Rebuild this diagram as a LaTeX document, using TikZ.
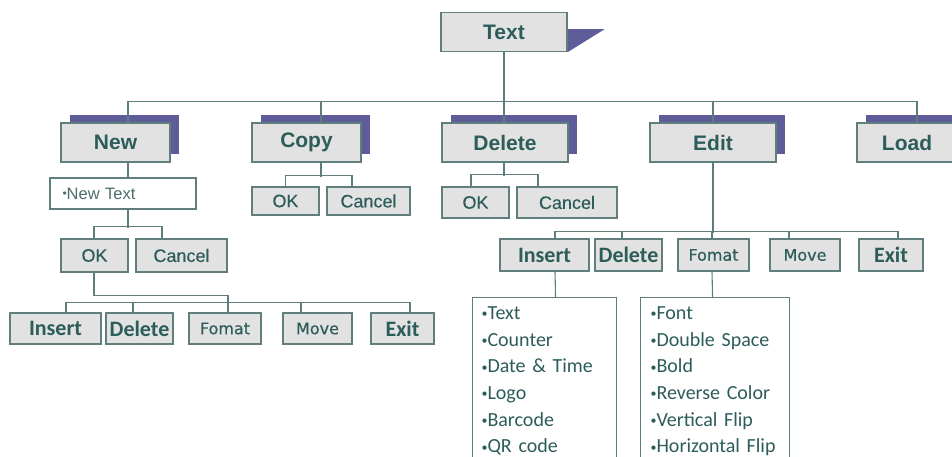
\documentclass[tikz,border=0pt]{standalone}
\usepackage{fontspec}
\setmainfont{Liberation Sans}
\newfontfamily\carlito{Carlito}
\newfontfamily\djv[FakeBold=0.5]{DejaVu Sans}
\newfontfamily\arialmid[FakeBold=0.35]{Liberation Sans}
\usetikzlibrary{shadows,backgrounds}

\definecolor{ink}{HTML}{2D5D5A}
\definecolor{softink}{HTML}{4E6E6C}
\definecolor{wire}{HTML}{5E7E7C}
\definecolor{boxgray}{HTML}{E2E2E2}
\definecolor{frame}{HTML}{607E7C}
\definecolor{tabblue}{HTML}{5F5D99}

\newcommand{\bul}{\raisebox{1.6pt}{\fontsize{12}{12}\selectfont\textbullet}}

\tikzset{
  box/.style={draw=frame, fill=boxgray, text=ink, inner sep=0pt, line width=1.3pt},
  head/.style={box, minimum width=126pt, minimum height=39pt, font=\bfseries\fontsize{21}{21}\selectfont},
  tab/.style={head, drop shadow={shadow xshift=9pt, shadow yshift=8pt, fill=tabblue, opacity=1}},
  btn/.style={box, font=\arialmid\fontsize{18}{18}\selectfont},
  tool/.style={box, minimum height=31pt, font=\carlito\bfseries\fontsize{22}{22}\selectfont},
  tooltoo/.style={box, minimum height=31pt, font=\djv\fontsize{16}{16}\selectfont},
  list/.style={draw=frame, fill=white, text=ink, line width=1.1pt, anchor=north west, align=left,
    inner ysep=9pt, font=\carlito\fontsize{20}{26.7}\selectfont},
  link/.style={draw=wire, line width=1.1pt}
}

\begin{document}
\begin{tikzpicture}[x=1pt, y=-1pt]
\path[use as bounding box, clip] (0,0) rectangle (952,457);

\node[head] (Text) at (504,32) {Text};
\node[tab, minimum width=109pt] (New) at (115.5,142.5) {New};
\node[tab, minimum width=109pt] (Copy) at (306.5,142.5) {Copy};
\node[tab] (Delete) at (505,142.5) {Delete};
\node[tab] (Edit) at (713,142.5) {Edit};
\node[tab, minimum width=100pt] (Load) at (907,142.5) {Load};

\node[draw=frame, fill=white, text=softink, line width=1.1pt, minimum height=31pt, text width=121pt,
  inner xsep=12.5pt, align=left, font=\fontsize{16.5}{16.5}\selectfont] (NewTxt) at (123,193.5) {\bul New Text};

\node[btn, minimum width=67pt, minimum height=33pt] (OK1) at (94.5,255.5) {OK};
\node[btn, minimum width=91pt, minimum height=33pt] (Cancel1) at (181.5,255.5) {Cancel};
\node[btn, minimum width=67pt, minimum height=28pt] (OK2) at (285.5,201) {OK};
\node[btn, minimum width=83pt, minimum height=28pt] (Cancel2) at (368.5,201) {Cancel};
\node[btn, minimum width=67pt, minimum height=31pt] (OK3) at (475.5,202.5) {OK};
\node[btn, minimum width=100pt, minimum height=31pt] (Cancel3) at (567,202.5) {Cancel};

\node[tool, minimum width=91pt] (Insert1) at (55.5,328.5) {Insert};
\node[tool, minimum width=67pt] (Delete1) at (139.5,328.5) {Delete};
\node[tooltoo, minimum width=72pt] (Fomat1) at (225,328.5) {Fomat};
\node[tooltoo, minimum width=69pt] (Move1) at (317.5,328.5) {Move};
\node[tool, minimum width=63pt] (Exit1) at (402.5,328.5) {Exit};

\node[tool, minimum width=89pt, minimum height=32pt] (Insert2) at (544.5,255) {Insert};
\node[tool, minimum width=67pt, minimum height=32pt] (Delete2) at (628.5,255) {Delete};
\node[tooltoo, minimum width=71pt, minimum height=32pt] (Fomat2) at (713.5,255) {Fomat};
\node[tooltoo, minimum width=70pt, minimum height=32pt] (Move2) at (805,255) {Move};
\node[tool, minimum width=64pt, minimum height=32pt] (Exit2) at (891,255) {Exit};

\node[list, inner xsep=9pt, text width=126pt] (InsList) at (472,297) {\bul Text\\ \bul Counter\\ \bul Date \& Time\\ \bul Logo\\ \bul Barcode\\ \bul QR code};
\node[list, inner xsep=10pt, text width=129pt] (FomList) at (640,297) {\bul Font\\ \bul Double Space\\ \bul Bold\\ \bul Reverse Color\\ \bul Vertical Flip\\ \bul Horizontal Flip};

\begin{scope}[on background layer]
\fill[tabblue] (Text.south east) -- ++(0,-23) -- ++(37,0) -- cycle;
\end{scope}

\draw[link] (Text.south) -- ++(0,50);
\draw[link] ([xshift=12.5pt]New.north) -- ++(0,-21) -| ([xshift=10pt]Load.north);
\draw[link] ([xshift=14.5pt]Copy.north) -- ++(0,-21);
\draw[link] ([xshift=-1pt]Delete.north) -- ++(0,-21);
\draw[link] (Edit.north) -- ++(0,-21);

\draw[link] ([xshift=12.5pt]New.south) -- ([xshift=5pt]NewTxt.north);
\draw[link] ([xshift=5pt]NewTxt.south) -- ++(0,18);
\draw[link] ([xshift=-0.5pt]OK1.north) -- ++(0,-12) -| ([xshift=-19.5pt]Cancel1.north);
\draw[link] ([xshift=-0.5pt]OK1.south) -- ++(0,23) -| ([xshift=3pt]Fomat1.north);
\draw[link] ([xshift=10.5pt]Insert1.north) -- ++(0,-10) -| ([xshift=7.5pt]Exit1.north);
\draw[link] ([xshift=-6.5pt]Delete1.north) -- ++(0,-10);
\draw[link] ([xshift=-16.5pt]Move1.north) -- ++(0,-10);

\draw[link] ([xshift=14.5pt]Copy.south) -- ++(0,14);
\draw[link] (OK2.north) -- ++(0,-11) -| ([xshift=-16.5pt]Cancel2.north);
\draw[link] ([xshift=-1pt]Delete.south) -- ++(0,13);
\draw[link] ([xshift=-4.5pt]OK3.north) -- ++(0,-12) -| ([xshift=-29pt]Cancel3.north);

\draw[link] (Edit.south) -- ++(0,70);
\draw[link] ([xshift=10.5pt]Insert2.north) -- ++(0,-7) -| ([xshift=7pt]Exit2.north);
\draw[link] ([xshift=-6.5pt]Delete2.north) -- ++(0,-7);
\draw[link] ([xshift=-1.5pt]Fomat2.north) -- ++(0,-7);
\draw[link] ([xshift=-16pt]Move2.north) -- ++(0,-7);
\draw[link] ([xshift=10.5pt]Insert2.south) -- ([xshift=11pt]InsList.north);
\draw[link] ([xshift=-1.5pt]Fomat2.south) -- ([xshift=-2.5pt]FomList.north);
\end{tikzpicture}
\end{document}
